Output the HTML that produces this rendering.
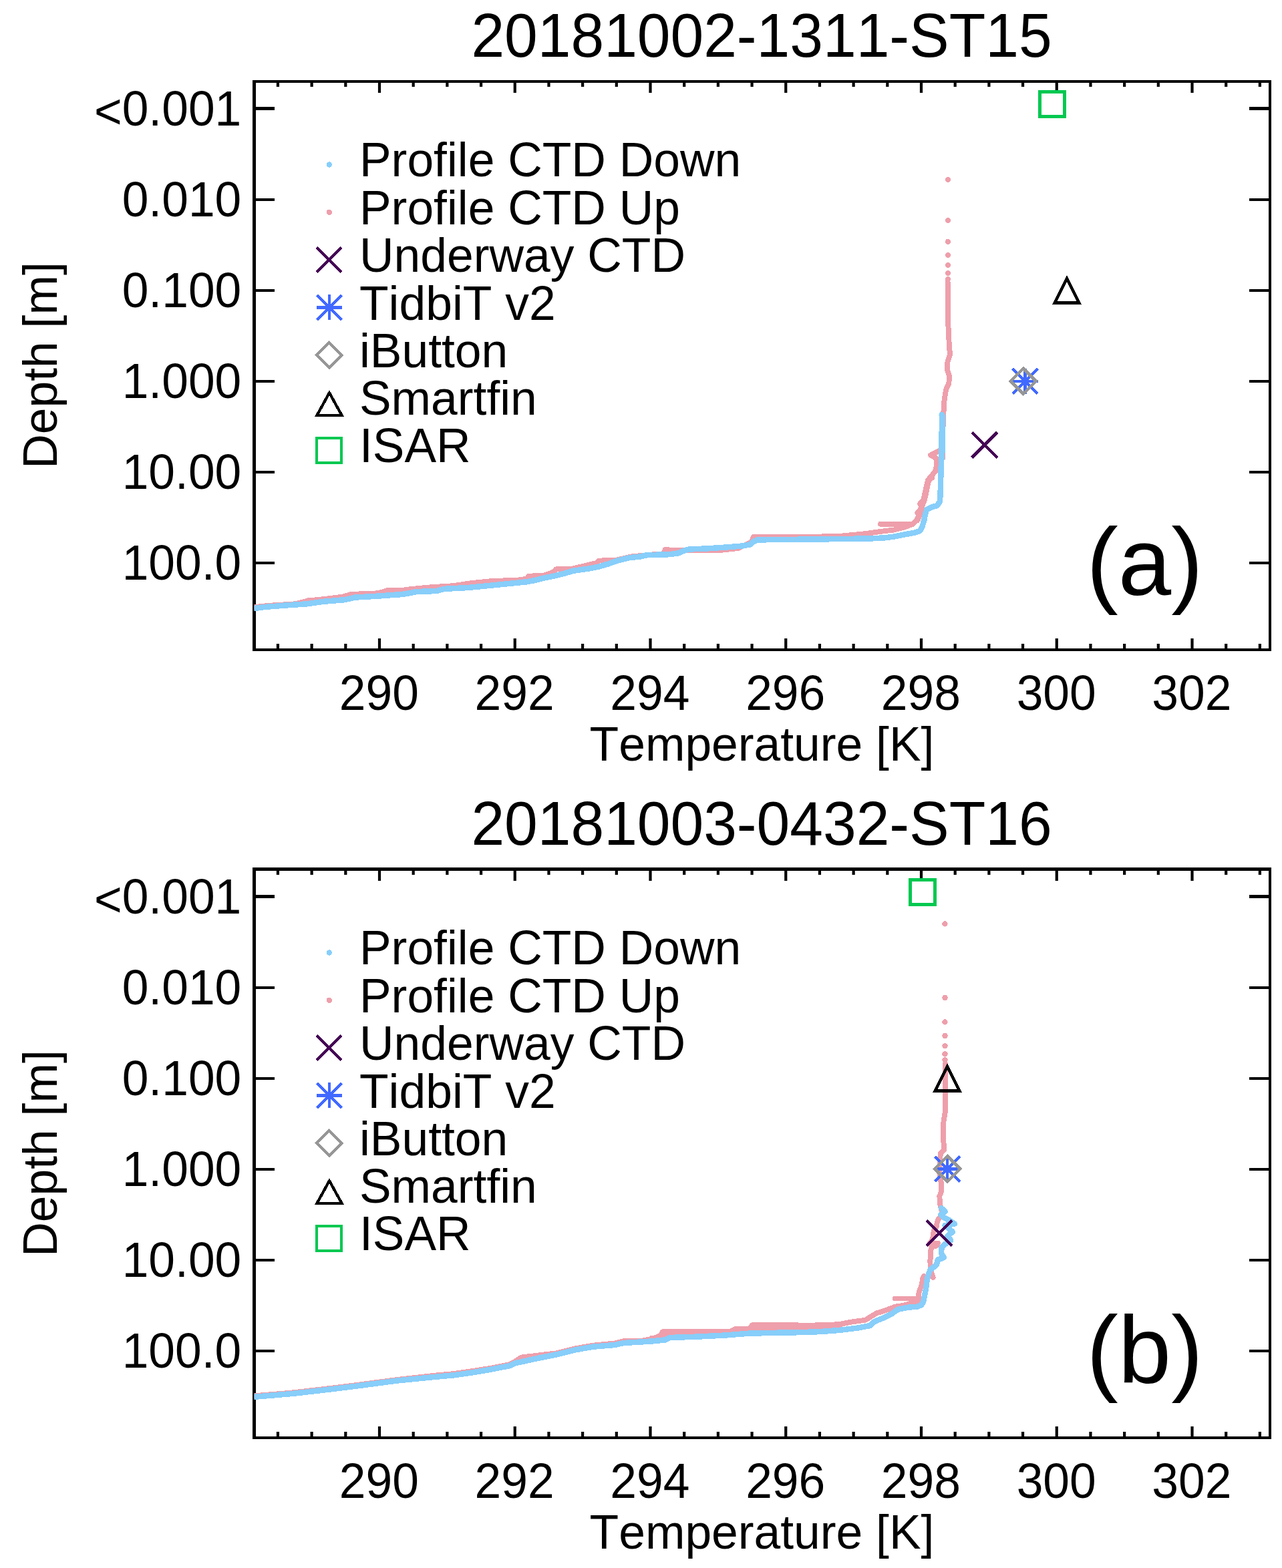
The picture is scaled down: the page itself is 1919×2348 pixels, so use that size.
<!DOCTYPE html>
<html lang="en">
<head>
<meta charset="utf-8">
<title>CTD temperature profiles</title>
<style>
html,body{margin:0;padding:0;background:#fff;}
body{width:1919px;height:2348px;}
svg{display:block;font-family:"Liberation Sans", sans-serif;fill:#000;font-kerning:none;font-variant-ligatures:none;}
</style>
</head>
<body>
<svg width="1919" height="2348" viewBox="0 0 1919 2348">
<defs><clipPath id="plotclip"><rect x="380.5" y="122" width="1520.5" height="851"/></clipPath></defs>
<rect width="1919" height="2348" fill="#fff"/>
<g transform="translate(0,0)">
<text transform="translate(1140,85.3) scale(1,1.028)" font-size="89.35" text-anchor="middle">20181002-1311-ST15</text>
<g stroke="#000" fill="none" shape-rendering="crispEdges">
<rect x="378" y="120" width="5" height="855" fill="#000" stroke="none"/>
<rect x="1899" y="120" width="4" height="855" fill="#000" stroke="none"/>
<rect x="378" y="120" width="1525" height="4" fill="#000" stroke="none"/>
<rect x="378" y="971" width="1525" height="4" fill="#000" stroke="none"/>
<rect x="413.84" y="124" width="4.2" height="6" fill="#000" stroke="none" shape-rendering="auto"/>
<rect x="413.84" y="964" width="4.2" height="7" fill="#000" stroke="none" shape-rendering="auto"/>
<rect x="464.52" y="124" width="4.2" height="6" fill="#000" stroke="none" shape-rendering="auto"/>
<rect x="464.52" y="964" width="4.2" height="7" fill="#000" stroke="none" shape-rendering="auto"/>
<rect x="515.21" y="124" width="4.2" height="6" fill="#000" stroke="none" shape-rendering="auto"/>
<rect x="515.21" y="964" width="4.2" height="7" fill="#000" stroke="none" shape-rendering="auto"/>
<rect x="565.90" y="124" width="4.2" height="15" fill="#000" stroke="none" shape-rendering="auto"/>
<rect x="565.90" y="956" width="4.2" height="15" fill="#000" stroke="none" shape-rendering="auto"/>
<rect x="616.59" y="124" width="4.2" height="6" fill="#000" stroke="none" shape-rendering="auto"/>
<rect x="616.59" y="964" width="4.2" height="7" fill="#000" stroke="none" shape-rendering="auto"/>
<rect x="667.27" y="124" width="4.2" height="6" fill="#000" stroke="none" shape-rendering="auto"/>
<rect x="667.27" y="964" width="4.2" height="7" fill="#000" stroke="none" shape-rendering="auto"/>
<rect x="717.96" y="124" width="4.2" height="6" fill="#000" stroke="none" shape-rendering="auto"/>
<rect x="717.96" y="964" width="4.2" height="7" fill="#000" stroke="none" shape-rendering="auto"/>
<rect x="768.65" y="124" width="4.2" height="15" fill="#000" stroke="none" shape-rendering="auto"/>
<rect x="768.65" y="956" width="4.2" height="15" fill="#000" stroke="none" shape-rendering="auto"/>
<rect x="819.34" y="124" width="4.2" height="6" fill="#000" stroke="none" shape-rendering="auto"/>
<rect x="819.34" y="964" width="4.2" height="7" fill="#000" stroke="none" shape-rendering="auto"/>
<rect x="870.02" y="124" width="4.2" height="6" fill="#000" stroke="none" shape-rendering="auto"/>
<rect x="870.02" y="964" width="4.2" height="7" fill="#000" stroke="none" shape-rendering="auto"/>
<rect x="920.71" y="124" width="4.2" height="6" fill="#000" stroke="none" shape-rendering="auto"/>
<rect x="920.71" y="964" width="4.2" height="7" fill="#000" stroke="none" shape-rendering="auto"/>
<rect x="971.40" y="124" width="4.2" height="15" fill="#000" stroke="none" shape-rendering="auto"/>
<rect x="971.40" y="956" width="4.2" height="15" fill="#000" stroke="none" shape-rendering="auto"/>
<rect x="1022.09" y="124" width="4.2" height="6" fill="#000" stroke="none" shape-rendering="auto"/>
<rect x="1022.09" y="964" width="4.2" height="7" fill="#000" stroke="none" shape-rendering="auto"/>
<rect x="1072.78" y="124" width="4.2" height="6" fill="#000" stroke="none" shape-rendering="auto"/>
<rect x="1072.78" y="964" width="4.2" height="7" fill="#000" stroke="none" shape-rendering="auto"/>
<rect x="1123.46" y="124" width="4.2" height="6" fill="#000" stroke="none" shape-rendering="auto"/>
<rect x="1123.46" y="964" width="4.2" height="7" fill="#000" stroke="none" shape-rendering="auto"/>
<rect x="1174.15" y="124" width="4.2" height="15" fill="#000" stroke="none" shape-rendering="auto"/>
<rect x="1174.15" y="956" width="4.2" height="15" fill="#000" stroke="none" shape-rendering="auto"/>
<rect x="1224.84" y="124" width="4.2" height="6" fill="#000" stroke="none" shape-rendering="auto"/>
<rect x="1224.84" y="964" width="4.2" height="7" fill="#000" stroke="none" shape-rendering="auto"/>
<rect x="1275.53" y="124" width="4.2" height="6" fill="#000" stroke="none" shape-rendering="auto"/>
<rect x="1275.53" y="964" width="4.2" height="7" fill="#000" stroke="none" shape-rendering="auto"/>
<rect x="1326.21" y="124" width="4.2" height="6" fill="#000" stroke="none" shape-rendering="auto"/>
<rect x="1326.21" y="964" width="4.2" height="7" fill="#000" stroke="none" shape-rendering="auto"/>
<rect x="1376.90" y="124" width="4.2" height="15" fill="#000" stroke="none" shape-rendering="auto"/>
<rect x="1376.90" y="956" width="4.2" height="15" fill="#000" stroke="none" shape-rendering="auto"/>
<rect x="1427.59" y="124" width="4.2" height="6" fill="#000" stroke="none" shape-rendering="auto"/>
<rect x="1427.59" y="964" width="4.2" height="7" fill="#000" stroke="none" shape-rendering="auto"/>
<rect x="1478.28" y="124" width="4.2" height="6" fill="#000" stroke="none" shape-rendering="auto"/>
<rect x="1478.28" y="964" width="4.2" height="7" fill="#000" stroke="none" shape-rendering="auto"/>
<rect x="1528.96" y="124" width="4.2" height="6" fill="#000" stroke="none" shape-rendering="auto"/>
<rect x="1528.96" y="964" width="4.2" height="7" fill="#000" stroke="none" shape-rendering="auto"/>
<rect x="1579.65" y="124" width="4.2" height="15" fill="#000" stroke="none" shape-rendering="auto"/>
<rect x="1579.65" y="956" width="4.2" height="15" fill="#000" stroke="none" shape-rendering="auto"/>
<rect x="1630.34" y="124" width="4.2" height="6" fill="#000" stroke="none" shape-rendering="auto"/>
<rect x="1630.34" y="964" width="4.2" height="7" fill="#000" stroke="none" shape-rendering="auto"/>
<rect x="1681.03" y="124" width="4.2" height="6" fill="#000" stroke="none" shape-rendering="auto"/>
<rect x="1681.03" y="964" width="4.2" height="7" fill="#000" stroke="none" shape-rendering="auto"/>
<rect x="1731.71" y="124" width="4.2" height="6" fill="#000" stroke="none" shape-rendering="auto"/>
<rect x="1731.71" y="964" width="4.2" height="7" fill="#000" stroke="none" shape-rendering="auto"/>
<rect x="1782.40" y="124" width="4.2" height="15" fill="#000" stroke="none" shape-rendering="auto"/>
<rect x="1782.40" y="956" width="4.2" height="15" fill="#000" stroke="none" shape-rendering="auto"/>
<rect x="1833.09" y="124" width="4.2" height="6" fill="#000" stroke="none" shape-rendering="auto"/>
<rect x="1833.09" y="964" width="4.2" height="7" fill="#000" stroke="none" shape-rendering="auto"/>
<rect x="1883.78" y="124" width="4.2" height="6" fill="#000" stroke="none" shape-rendering="auto"/>
<rect x="1883.78" y="964" width="4.2" height="7" fill="#000" stroke="none" shape-rendering="auto"/>
<rect x="383" y="160" width="28" height="5" fill="#000" stroke="none"/>
<rect x="1870" y="160" width="29" height="5" fill="#000" stroke="none"/>
<rect x="383" y="297" width="28" height="4" fill="#000" stroke="none"/>
<rect x="1870" y="297" width="29" height="4" fill="#000" stroke="none"/>
<rect x="383" y="433" width="28" height="4" fill="#000" stroke="none"/>
<rect x="1870" y="433" width="29" height="4" fill="#000" stroke="none"/>
<rect x="383" y="569" width="28" height="4" fill="#000" stroke="none"/>
<rect x="1870" y="569" width="29" height="4" fill="#000" stroke="none"/>
<rect x="383" y="705" width="28" height="4" fill="#000" stroke="none"/>
<rect x="1870" y="705" width="29" height="4" fill="#000" stroke="none"/>
<rect x="383" y="841" width="28" height="4" fill="#000" stroke="none"/>
<rect x="1870" y="841" width="29" height="4" fill="#000" stroke="none"/>
</g>
<g clip-path="url(#plotclip)" shape-rendering="crispEdges">
<circle cx="1419" cy="268.9" r="4.2" fill="#ee9fab"/>
<circle cx="1419" cy="330" r="4.2" fill="#ee9fab"/>
<circle cx="1419" cy="361.8" r="4.2" fill="#ee9fab"/>
<circle cx="1419" cy="381.9" r="4.2" fill="#ee9fab"/>
<circle cx="1419" cy="397" r="4.2" fill="#ee9fab"/>
<circle cx="1419" cy="409.1" r="4.2" fill="#ee9fab"/>
<circle cx="1419" cy="418.3" r="4.2" fill="#ee9fab"/>
<path d="M1418.6,422.8L1418.6,465.2L1419.3,485.9L1420.3,504.8L1420.8,518.9L1422.2,530.2L1418.4,542.4L1417.9,553.7L1421.2,563.2L1420.3,574.5L1416.5,582.0L1414.6,592.4L1412.9,603.7L1412.9,614.0L1411.8,618.0L1411.8,638.0L1410.9,642.0L1410.9,672.0L1401.0,677.5L1393.0,681.5L1401.0,686.0L1402.5,694.5L1400.0,706.0L1394.0,713.0L1389.0,719.0L1385.7,733.0L1382.3,749.0L1377.0,754.5L1380.0,760.0L1375.0,766.0L1376.0,772.0L1371.0,780.0L1366.0,785.0L1352.0,790.0L1338.0,793.5L1317.5,796.0L1297.0,799.0L1276.0,801.0L1255.0,803.0L1200.0,804.0L1128.0,804.0L1124.5,812.0L1105.0,821.0L1080.0,823.8L1032.0,824.2L995.5,823.3L993.0,829.5L975.0,830.5L960.0,832.0L945.0,833.5L920.0,839.3L896.0,839.5L893.0,843.0L870.0,848.5L855.0,852.0L832.0,852.4L830.0,856.0L815.0,861.5L791.0,862.8L789.0,866.0L780.0,868.3L733.6,870.3L706.0,873.1L678.0,877.2L645.0,879.3L615.0,882.1L600.0,884.1L580.0,884.1L566.0,888.3L526.0,889.9L512.0,893.8L484.4,897.2L461.6,899.3L443.0,904.2L401.5,906.9L378.0,909.5" stroke="#ee9fab" stroke-width="7.9" fill="none" stroke-linejoin="round" stroke-linecap="round"/>
<path d="M1410.9,672.0L1410.9,686.0" stroke="#ee9fab" stroke-width="7.9" fill="none" stroke-linejoin="round" stroke-linecap="round"/>
<circle cx="1391" cy="718" r="4.2" fill="#ee9fab"/>
<circle cx="1395" cy="715.5" r="4.2" fill="#ee9fab"/>
<circle cx="1373.5" cy="768" r="4.2" fill="#ee9fab"/>
<circle cx="1404" cy="694" r="4.2" fill="#ee9fab"/>
<path d="M1366.0,785.0L1318.0,784.7" stroke="#ee9fab" stroke-width="7.9" fill="none" stroke-linejoin="round" stroke-linecap="round"/>
<path d="M1395.0,712.0L1389.5,722.0L1387.0,735.0L1383.5,750.0L1380.0,758.0L1378.0,768.0L1373.5,779.0" stroke="#ee9fab" stroke-width="7.9" fill="none" stroke-linejoin="round" stroke-linecap="round"/>
<path d="M995.5,823.3L1032.0,824.2" stroke="#ee9fab" stroke-width="7.9" fill="none" stroke-linejoin="round" stroke-linecap="round"/>
<path d="M1409.7,621.0L1410.6,628.3L1409.7,647.1L1409.2,684.8L1408.3,713.0L1407.6,741.3L1406.7,751.1L1403.0,757.0L1394.0,759.6L1387.0,763.3L1384.8,771.0L1383.3,779.0L1380.5,788.4L1377.0,795.0L1368.5,797.8L1352.1,800.8L1338.3,803.6L1324.4,805.3L1303.7,806.4L1255.3,807.1L1200.0,807.7L1134.2,808.4L1128.7,810.5L1123.1,815.3L1112.1,817.4L1084.4,819.7L1056.8,821.5L1031.9,822.5L1022.2,825.0L1015.3,828.4L1001.5,830.2L968.3,831.2L960.0,833.2L941.2,835.3L924.6,839.4L910.8,844.3L897.0,848.4L883.1,851.2L858.3,854.7L844.4,858.8L830.6,862.3L816.8,865.0L803.0,868.5L789.1,871.2L768.4,873.3L747.5,875.4L719.7,878.2L699.0,880.1L664.4,881.9L653.4,885.0L623.0,886.1L611.9,888.4L600.0,890.2L581.5,891.4L567.4,892.5L531.4,894.6L516.2,898.1L484.4,900.8L459.5,904.3L429.1,906.4L394.6,909.1L378.0,911.4" stroke="#87cefa" stroke-width="8.5" fill="none" stroke-linejoin="round" stroke-linecap="round"/>
<path d="M1410.4,621.5L1410.6,640.0L1410.2,686.0" stroke="#87cefa" stroke-width="8.5" fill="none" stroke-linejoin="round" stroke-linecap="round"/>
</g>
<g shape-rendering="crispEdges">
<rect x="1556.3" y="137.3" width="37.4" height="37.4" stroke="#00c850" stroke-width="4.6" fill="none"/>
<path d="M1597,416.9L1615.4,453.59999999999997L1578.6,453.59999999999997Z" stroke="#000" stroke-width="4.6" fill="none" stroke-linejoin="miter" stroke-miterlimit="10"/>
<path d="M1515.8,552.0L1553.3999999999999,589.5999999999999M1515.8,589.5999999999999L1553.3999999999999,552.0M1515.3,570.8L1553.8999999999999,570.8M1534.6,551.5L1534.6,590.0999999999999" stroke="#4169ff" stroke-width="4.5" fill="none"/>
<path d="M1531.6,551.6L1550.6,570.6L1531.6,589.6L1512.6,570.6Z" stroke="#969696" stroke-width="4.4" fill="none" stroke-linejoin="miter"/>
<path d="M1454.8,647.3L1492.8,685.3M1454.8,685.3L1492.8,647.3" stroke="#440154" stroke-width="4.6" fill="none"/>
</g>
<text transform="translate(361.3,187.5) scale(1,1.035)" font-size="71.4" text-anchor="end"><tspan dy="4.6">&lt;</tspan><tspan dy="-4.6">0.001</tspan></text>
<text transform="translate(361.3,323.6) scale(1,1.035)" font-size="71.4" text-anchor="end">0.010</text>
<text transform="translate(361.3,459.7) scale(1,1.035)" font-size="71.4" text-anchor="end">0.100</text>
<text transform="translate(361.3,595.8) scale(1,1.035)" font-size="71.4" text-anchor="end">1.000</text>
<text transform="translate(361.3,731.9) scale(1,1.035)" font-size="71.4" text-anchor="end">10.00</text>
<text transform="translate(361.3,868.0) scale(1,1.035)" font-size="71.4" text-anchor="end">100.0</text>
<text transform="translate(567.4,1063.4) scale(1,1.035)" font-size="71.4" text-anchor="middle">290</text>
<text transform="translate(770.1,1063.4) scale(1,1.035)" font-size="71.4" text-anchor="middle">292</text>
<text transform="translate(972.9,1063.4) scale(1,1.035)" font-size="71.4" text-anchor="middle">294</text>
<text transform="translate(1175.7,1063.4) scale(1,1.035)" font-size="71.4" text-anchor="middle">296</text>
<text transform="translate(1378.4,1063.4) scale(1,1.035)" font-size="71.4" text-anchor="middle">298</text>
<text transform="translate(1581.2,1063.4) scale(1,1.035)" font-size="71.4" text-anchor="middle">300</text>
<text transform="translate(1783.9,1063.4) scale(1,1.035)" font-size="71.4" text-anchor="middle">302</text>
<text x="1140.5" y="1138.5" font-size="71.4" text-anchor="middle">Temperature [K]</text>
<text transform="translate(85,547) rotate(-90)" font-size="71.4" text-anchor="middle">Depth [m]</text>
<text x="538" y="264.0" font-size="71.4">Profile CTD Down</text>
<text x="538" y="335.7" font-size="71.4">Profile CTD Up</text>
<text x="538" y="406.8" font-size="71.4">Underway CTD</text>
<text x="538" y="478.8" font-size="71.4">TidbiT v2</text>
<text x="538" y="550.0" font-size="71.4">iButton</text>
<text x="538" y="621.0" font-size="71.4">Smartfin</text>
<text x="538" y="692.0" font-size="71.4">ISAR</text>
<g shape-rendering="crispEdges">
<circle cx="492.8" cy="246.5" r="4.2" fill="#87cefa"/>
<circle cx="492.8" cy="317.83" r="4.2" fill="#ee9fab"/>
<path d="M474.3,370.65999999999997L511.3,407.65999999999997M474.3,407.65999999999997L511.3,370.65999999999997" stroke="#440154" stroke-width="4.2" fill="none"/>
<path d="M474.3,441.99L511.3,478.99M474.3,478.99L511.3,441.99M473.8,460.49L511.8,460.49M492.8,441.49L492.8,479.49" stroke="#4169ff" stroke-width="4.2" fill="none"/>
<path d="M492.8,513.02L511.6,531.8199999999999L492.8,550.6199999999999L474.0,531.8199999999999Z" stroke="#969696" stroke-width="4.2" fill="none" stroke-linejoin="miter"/>
<path d="M493.0,588.2L511.5,621.8L474.5,621.8Z" stroke="#000" stroke-width="4.2" fill="none" stroke-linejoin="miter" stroke-miterlimit="10"/>
<rect x="474.3" y="655.98" width="37.0" height="37.0" stroke="#00c850" stroke-width="4.2" fill="none"/>
</g>
<text x="1713.5" y="891" font-size="142.7" text-anchor="middle">(a)</text>
</g>
<g transform="translate(0,1180)">
<text transform="translate(1140,85.3) scale(1,1.028)" font-size="89.35" text-anchor="middle">20181003-0432-ST16</text>
<g stroke="#000" fill="none" shape-rendering="crispEdges">
<rect x="378" y="119" width="5" height="856" fill="#000" stroke="none"/>
<rect x="1899" y="120" width="4" height="855" fill="#000" stroke="none"/>
<rect x="378" y="119" width="1525" height="5" fill="#000" stroke="none"/>
<rect x="378" y="971" width="1525" height="4" fill="#000" stroke="none"/>
<rect x="413.84" y="124" width="4.2" height="6" fill="#000" stroke="none" shape-rendering="auto"/>
<rect x="413.84" y="964" width="4.2" height="7" fill="#000" stroke="none" shape-rendering="auto"/>
<rect x="464.52" y="124" width="4.2" height="6" fill="#000" stroke="none" shape-rendering="auto"/>
<rect x="464.52" y="964" width="4.2" height="7" fill="#000" stroke="none" shape-rendering="auto"/>
<rect x="515.21" y="124" width="4.2" height="6" fill="#000" stroke="none" shape-rendering="auto"/>
<rect x="515.21" y="964" width="4.2" height="7" fill="#000" stroke="none" shape-rendering="auto"/>
<rect x="565.90" y="124" width="4.2" height="15" fill="#000" stroke="none" shape-rendering="auto"/>
<rect x="565.90" y="956" width="4.2" height="15" fill="#000" stroke="none" shape-rendering="auto"/>
<rect x="616.59" y="124" width="4.2" height="6" fill="#000" stroke="none" shape-rendering="auto"/>
<rect x="616.59" y="964" width="4.2" height="7" fill="#000" stroke="none" shape-rendering="auto"/>
<rect x="667.27" y="124" width="4.2" height="6" fill="#000" stroke="none" shape-rendering="auto"/>
<rect x="667.27" y="964" width="4.2" height="7" fill="#000" stroke="none" shape-rendering="auto"/>
<rect x="717.96" y="124" width="4.2" height="6" fill="#000" stroke="none" shape-rendering="auto"/>
<rect x="717.96" y="964" width="4.2" height="7" fill="#000" stroke="none" shape-rendering="auto"/>
<rect x="768.65" y="124" width="4.2" height="15" fill="#000" stroke="none" shape-rendering="auto"/>
<rect x="768.65" y="956" width="4.2" height="15" fill="#000" stroke="none" shape-rendering="auto"/>
<rect x="819.34" y="124" width="4.2" height="6" fill="#000" stroke="none" shape-rendering="auto"/>
<rect x="819.34" y="964" width="4.2" height="7" fill="#000" stroke="none" shape-rendering="auto"/>
<rect x="870.02" y="124" width="4.2" height="6" fill="#000" stroke="none" shape-rendering="auto"/>
<rect x="870.02" y="964" width="4.2" height="7" fill="#000" stroke="none" shape-rendering="auto"/>
<rect x="920.71" y="124" width="4.2" height="6" fill="#000" stroke="none" shape-rendering="auto"/>
<rect x="920.71" y="964" width="4.2" height="7" fill="#000" stroke="none" shape-rendering="auto"/>
<rect x="971.40" y="124" width="4.2" height="15" fill="#000" stroke="none" shape-rendering="auto"/>
<rect x="971.40" y="956" width="4.2" height="15" fill="#000" stroke="none" shape-rendering="auto"/>
<rect x="1022.09" y="124" width="4.2" height="6" fill="#000" stroke="none" shape-rendering="auto"/>
<rect x="1022.09" y="964" width="4.2" height="7" fill="#000" stroke="none" shape-rendering="auto"/>
<rect x="1072.78" y="124" width="4.2" height="6" fill="#000" stroke="none" shape-rendering="auto"/>
<rect x="1072.78" y="964" width="4.2" height="7" fill="#000" stroke="none" shape-rendering="auto"/>
<rect x="1123.46" y="124" width="4.2" height="6" fill="#000" stroke="none" shape-rendering="auto"/>
<rect x="1123.46" y="964" width="4.2" height="7" fill="#000" stroke="none" shape-rendering="auto"/>
<rect x="1174.15" y="124" width="4.2" height="15" fill="#000" stroke="none" shape-rendering="auto"/>
<rect x="1174.15" y="956" width="4.2" height="15" fill="#000" stroke="none" shape-rendering="auto"/>
<rect x="1224.84" y="124" width="4.2" height="6" fill="#000" stroke="none" shape-rendering="auto"/>
<rect x="1224.84" y="964" width="4.2" height="7" fill="#000" stroke="none" shape-rendering="auto"/>
<rect x="1275.53" y="124" width="4.2" height="6" fill="#000" stroke="none" shape-rendering="auto"/>
<rect x="1275.53" y="964" width="4.2" height="7" fill="#000" stroke="none" shape-rendering="auto"/>
<rect x="1326.21" y="124" width="4.2" height="6" fill="#000" stroke="none" shape-rendering="auto"/>
<rect x="1326.21" y="964" width="4.2" height="7" fill="#000" stroke="none" shape-rendering="auto"/>
<rect x="1376.90" y="124" width="4.2" height="15" fill="#000" stroke="none" shape-rendering="auto"/>
<rect x="1376.90" y="956" width="4.2" height="15" fill="#000" stroke="none" shape-rendering="auto"/>
<rect x="1427.59" y="124" width="4.2" height="6" fill="#000" stroke="none" shape-rendering="auto"/>
<rect x="1427.59" y="964" width="4.2" height="7" fill="#000" stroke="none" shape-rendering="auto"/>
<rect x="1478.28" y="124" width="4.2" height="6" fill="#000" stroke="none" shape-rendering="auto"/>
<rect x="1478.28" y="964" width="4.2" height="7" fill="#000" stroke="none" shape-rendering="auto"/>
<rect x="1528.96" y="124" width="4.2" height="6" fill="#000" stroke="none" shape-rendering="auto"/>
<rect x="1528.96" y="964" width="4.2" height="7" fill="#000" stroke="none" shape-rendering="auto"/>
<rect x="1579.65" y="124" width="4.2" height="15" fill="#000" stroke="none" shape-rendering="auto"/>
<rect x="1579.65" y="956" width="4.2" height="15" fill="#000" stroke="none" shape-rendering="auto"/>
<rect x="1630.34" y="124" width="4.2" height="6" fill="#000" stroke="none" shape-rendering="auto"/>
<rect x="1630.34" y="964" width="4.2" height="7" fill="#000" stroke="none" shape-rendering="auto"/>
<rect x="1681.03" y="124" width="4.2" height="6" fill="#000" stroke="none" shape-rendering="auto"/>
<rect x="1681.03" y="964" width="4.2" height="7" fill="#000" stroke="none" shape-rendering="auto"/>
<rect x="1731.71" y="124" width="4.2" height="6" fill="#000" stroke="none" shape-rendering="auto"/>
<rect x="1731.71" y="964" width="4.2" height="7" fill="#000" stroke="none" shape-rendering="auto"/>
<rect x="1782.40" y="124" width="4.2" height="15" fill="#000" stroke="none" shape-rendering="auto"/>
<rect x="1782.40" y="956" width="4.2" height="15" fill="#000" stroke="none" shape-rendering="auto"/>
<rect x="1833.09" y="124" width="4.2" height="6" fill="#000" stroke="none" shape-rendering="auto"/>
<rect x="1833.09" y="964" width="4.2" height="7" fill="#000" stroke="none" shape-rendering="auto"/>
<rect x="1883.78" y="124" width="4.2" height="6" fill="#000" stroke="none" shape-rendering="auto"/>
<rect x="1883.78" y="964" width="4.2" height="7" fill="#000" stroke="none" shape-rendering="auto"/>
<rect x="383" y="160" width="28" height="5" fill="#000" stroke="none"/>
<rect x="1870" y="160" width="29" height="5" fill="#000" stroke="none"/>
<rect x="383" y="297" width="28" height="4" fill="#000" stroke="none"/>
<rect x="1870" y="297" width="29" height="4" fill="#000" stroke="none"/>
<rect x="383" y="433" width="28" height="4" fill="#000" stroke="none"/>
<rect x="1870" y="433" width="29" height="4" fill="#000" stroke="none"/>
<rect x="383" y="569" width="28" height="4" fill="#000" stroke="none"/>
<rect x="1870" y="569" width="29" height="4" fill="#000" stroke="none"/>
<rect x="383" y="705" width="28" height="4" fill="#000" stroke="none"/>
<rect x="1870" y="705" width="29" height="4" fill="#000" stroke="none"/>
<rect x="383" y="841" width="28" height="4" fill="#000" stroke="none"/>
<rect x="1870" y="841" width="29" height="4" fill="#000" stroke="none"/>
</g>
<g clip-path="url(#plotclip)" shape-rendering="crispEdges">
<circle cx="1414.5" cy="203.5" r="4.2" fill="#ee9fab"/>
<circle cx="1414.5" cy="314" r="4.2" fill="#ee9fab"/>
<circle cx="1414.5" cy="350.5" r="4.2" fill="#ee9fab"/>
<circle cx="1414.5" cy="371" r="4.2" fill="#ee9fab"/>
<circle cx="1414.5" cy="386.3" r="4.2" fill="#ee9fab"/>
<circle cx="1414.5" cy="398.4" r="4.2" fill="#ee9fab"/>
<circle cx="1414.5" cy="407.2" r="4.2" fill="#ee9fab"/>
<path d="M1415.0,413.0L1414.9,428.2L1414.9,456.5L1415.3,470.6L1414.9,484.7L1412.5,498.9L1412.0,513.0L1412.5,531.8L1413.4,541.2L1407.8,546.9L1407.3,555.4L1405.9,569.5L1406.9,583.6L1409.4,593.0L1409.2,603.5L1406.4,611.1L1406.9,622.4L1408.0,627.0L1410.0,634.0L1409.5,640.0L1404.5,645.8L1402.5,651.7L1401.6,657.4L1397.7,663.0L1397.1,668.7L1396.6,672.6L1394.0,679.0L1390.9,682.8L1403.9,681.7L1401.6,685.6L1396.0,686.0L1393.4,691.3L1393.2,699.7L1392.3,708.2L1392.6,713.9L1394.0,725.0L1396.6,733.0" stroke="#ee9fab" stroke-width="7.9" fill="none" stroke-linejoin="round" stroke-linecap="round"/>
<path d="M1383.0,731.0L1381.4,733.5L1379.5,744.8L1375.8,754.2L1374.8,761.7L1375.0,768.0L1353.6,774.6L1339.7,776.7L1325.9,782.2L1312.1,786.4L1305.2,790.5L1295.5,796.7L1274.8,799.5L1256.8,803.0L1241.6,803.9L1215.3,804.6L1160.0,804.2L1126.0,804.2L1123.5,808.0L1122.0,810.4L1100.0,810.4L1093.0,813.8L992.0,814.1L989.0,820.0L978.0,824.2L961.5,827.7L933.0,828.3L920.0,831.5L887.4,834.7L859.7,839.6L832.1,846.5L830.0,846.6L780.0,852.6L769.9,859.6L762.9,863.1L735.3,868.6L707.7,873.0L680.0,877.0L653.8,879.4L595.0,885.9L536.3,893.7L497.1,898.6L438.3,905.4L378.0,910.5" stroke="#ee9fab" stroke-width="7.9" fill="none" stroke-linejoin="round" stroke-linecap="round"/>
<path d="M1375.7,764.5L1340.0,764.5" stroke="#ee9fab" stroke-width="7.9" fill="none" stroke-linejoin="round" stroke-linecap="round"/>
<path d="M1256.8,807.5L1229.1,809.5L1201.5,810.3L1160.0,810.5L1120.5,811.5L1085.9,814.5L1044.4,816.6L1003.0,818.0L996.0,821.4L975.3,824.0" stroke="#ee9fab" stroke-width="7.9" fill="none" stroke-linejoin="round" stroke-linecap="round"/>
<path d="M1409.0,629.1L1414.6,634.2L1408.4,638.7L1412.9,643.2L1419.2,646.1L1428.8,652.6L1414.6,655.1L1425.9,664.7L1418.6,670.4L1423.1,677.1L1415.2,682.8L1409.5,688.4L1409.0,696.9L1412.9,703.1L1403.9,706.5L1401.6,714.4L1392.6,721.2L1389.0,730.7L1387.1,740.1L1386.1,749.5L1384.3,758.9L1382.4,768.3L1379.5,774.0L1373.0,776.8L1360.5,777.5L1343.9,780.8L1334.2,787.7L1323.1,793.3L1309.3,798.8L1302.4,805.0L1284.4,808.5L1256.8,811.9L1229.1,814.0L1201.5,815.1L1160.0,815.8L1120.5,816.7L1085.9,819.5L1044.4,821.6L1003.0,823.0L996.0,826.4L975.3,828.5L933.8,831.0L920.0,834.0L887.4,836.7L859.7,841.6L832.1,848.5L804.4,854.0L769.9,861.6L762.9,865.1L735.3,870.6L707.7,875.2L680.0,879.2L653.8,881.6L595.0,887.4L536.3,895.2L497.1,900.1L438.3,906.9L378.0,912.0" stroke="#87cefa" stroke-width="8.5" fill="none" stroke-linejoin="round" stroke-linecap="round"/>
</g>
<g shape-rendering="crispEdges">
<rect x="1362.3" y="137.3" width="37.4" height="37.4" stroke="#00c850" stroke-width="4.6" fill="none"/>
<path d="M1418,416.9L1436.4,453.59999999999997L1399.6,453.59999999999997Z" stroke="#000" stroke-width="4.6" fill="none" stroke-linejoin="miter" stroke-miterlimit="10"/>
<path d="M1399.4,551.8000000000001L1437.0,589.4M1399.4,589.4L1437.0,551.8000000000001M1398.9,570.6L1437.5,570.6M1418.2,551.3000000000001L1418.2,589.9" stroke="#4169ff" stroke-width="4.5" fill="none"/>
<path d="M1418.4,551.4L1437.4,570.4L1418.4,589.4L1399.4,570.4Z" stroke="#969696" stroke-width="4.4" fill="none" stroke-linejoin="miter"/>
<path d="M1387,647.4L1425,685.4M1387,685.4L1425,647.4" stroke="#440154" stroke-width="4.6" fill="none"/>
</g>
<text transform="translate(361.3,187.5) scale(1,1.035)" font-size="71.4" text-anchor="end"><tspan dy="4.6">&lt;</tspan><tspan dy="-4.6">0.001</tspan></text>
<text transform="translate(361.3,323.6) scale(1,1.035)" font-size="71.4" text-anchor="end">0.010</text>
<text transform="translate(361.3,459.7) scale(1,1.035)" font-size="71.4" text-anchor="end">0.100</text>
<text transform="translate(361.3,595.8) scale(1,1.035)" font-size="71.4" text-anchor="end">1.000</text>
<text transform="translate(361.3,731.9) scale(1,1.035)" font-size="71.4" text-anchor="end">10.00</text>
<text transform="translate(361.3,868.0) scale(1,1.035)" font-size="71.4" text-anchor="end">100.0</text>
<text transform="translate(567.4,1063.4) scale(1,1.035)" font-size="71.4" text-anchor="middle">290</text>
<text transform="translate(770.1,1063.4) scale(1,1.035)" font-size="71.4" text-anchor="middle">292</text>
<text transform="translate(972.9,1063.4) scale(1,1.035)" font-size="71.4" text-anchor="middle">294</text>
<text transform="translate(1175.7,1063.4) scale(1,1.035)" font-size="71.4" text-anchor="middle">296</text>
<text transform="translate(1378.4,1063.4) scale(1,1.035)" font-size="71.4" text-anchor="middle">298</text>
<text transform="translate(1581.2,1063.4) scale(1,1.035)" font-size="71.4" text-anchor="middle">300</text>
<text transform="translate(1783.9,1063.4) scale(1,1.035)" font-size="71.4" text-anchor="middle">302</text>
<text x="1140.5" y="1138.5" font-size="71.4" text-anchor="middle">Temperature [K]</text>
<text transform="translate(85,547) rotate(-90)" font-size="71.4" text-anchor="middle">Depth [m]</text>
<text x="538" y="264.0" font-size="71.4">Profile CTD Down</text>
<text x="538" y="335.7" font-size="71.4">Profile CTD Up</text>
<text x="538" y="406.8" font-size="71.4">Underway CTD</text>
<text x="538" y="478.8" font-size="71.4">TidbiT v2</text>
<text x="538" y="550.0" font-size="71.4">iButton</text>
<text x="538" y="621.0" font-size="71.4">Smartfin</text>
<text x="538" y="692.0" font-size="71.4">ISAR</text>
<g shape-rendering="crispEdges">
<circle cx="492.8" cy="246.5" r="4.2" fill="#87cefa"/>
<circle cx="492.8" cy="317.83" r="4.2" fill="#ee9fab"/>
<path d="M474.3,370.65999999999997L511.3,407.65999999999997M474.3,407.65999999999997L511.3,370.65999999999997" stroke="#440154" stroke-width="4.2" fill="none"/>
<path d="M474.3,441.99L511.3,478.99M474.3,478.99L511.3,441.99M473.8,460.49L511.8,460.49M492.8,441.49L492.8,479.49" stroke="#4169ff" stroke-width="4.2" fill="none"/>
<path d="M492.8,513.02L511.6,531.8199999999999L492.8,550.6199999999999L474.0,531.8199999999999Z" stroke="#969696" stroke-width="4.2" fill="none" stroke-linejoin="miter"/>
<path d="M493.0,588.2L511.5,621.8L474.5,621.8Z" stroke="#000" stroke-width="4.2" fill="none" stroke-linejoin="miter" stroke-miterlimit="10"/>
<rect x="474.3" y="655.98" width="37.0" height="37.0" stroke="#00c850" stroke-width="4.2" fill="none"/>
</g>
<text x="1713.5" y="891" font-size="142.7" text-anchor="middle">(b)</text>
</g>
</svg>
</body>
</html>
